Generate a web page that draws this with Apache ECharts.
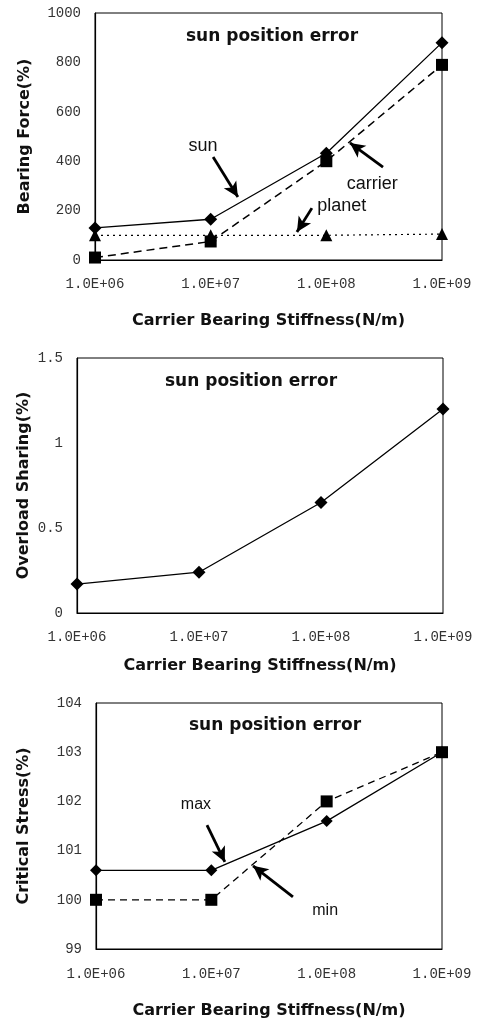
<!DOCTYPE html>
<html lang="en">
<head>
    <meta charset="utf-8">
    <style>
        html, body { margin: 0; padding: 0; background: #fff; }
        #chart { width: 483px; height: 1024px; }
    </style>
</head>
<body>
<div id="chart"></div>
<script src="https://cdn.jsdelivr.net/npm/echarts@6.0.0/dist/echarts.min.js"></script>
<script type="text/javascript">

// stiffness values (N/m), shared by the three panels
var stiffness = [1e6, 1e7, 1e8, 1e9];

// panel 1: bearing force (%)
var sunForce = [130, 165, 432, 880];
var carrierForce = [10, 75, 400, 790];
var planetForce = [100, 100, 100, 105];

// panel 2: overload sharing (%)
var overloadSharing = [0.17, 0.24, 0.65, 1.2];

// panel 3: critical stress (%)
var stressMax = [100.6, 100.6, 101.6, 103.0];
var stressMin = [100.0, 100.0, 102.0, 103.0];

// annotations: text position and arrow [[from], [to]] in data units
var notes1 = [
    { text: 'sun', at: [8.6e6, 462], arrow: [[1.05e7, 417], [1.72e7, 255]] },
    { text: 'carrier', at: [2.5e8, 308], arrow: [[3.09e8, 376], [1.6e8, 474]] },
    { text: 'planet', at: [1.36e8, 219], arrow: [[7.5e7, 210], [5.57e7, 113]] }
];
var notes3 = [
    { text: 'max', at: [7.36e6, 101.93], arrow: [[9.17e6, 101.52], [1.31e7, 100.77]] },
    { text: 'min', at: [9.7e7, 99.79], arrow: [[5.1e7, 100.06], [2.3e7, 100.69]] }
];

var FONT = '"Liberation Sans", Arial, sans-serif';
var TITLE_FONT = '"DejaVu Sans", sans-serif';
var TICK_FONT = '"Liberation Mono", "DejaVu Sans Mono", monospace';

function pairs(ys) {
    return stiffness.map(function (x, i) { return [x, ys[i]]; });
}

function expLabel(v) {
    var e = Math.round(Math.log10(v));
    return '1.0E+' + (e < 10 ? '0' : '') + e;
}

function notePoints(notes, size) {
    return notes.map(function (n) {
        return {
            coord: n.at,
            symbolSize: 0,
            label: { show: true, formatter: n.text, fontSize: size, color: '#111', fontFamily: FONT }
        };
    });
}

function noteArrows(notes) {
    return notes.map(function (n) {
        return [{ coord: n.arrow[0] }, { coord: n.arrow[1] }];
    });
}

function xAxisOf(idx, gap, margin) {
    return {
        gridIndex: idx,
        type: 'log',
        logBase: 10,
        min: 1e6,
        max: 1e9,
        name: 'Carrier Bearing Stiffness(N/m)',
        nameLocation: 'middle',
        nameGap: gap,
        nameMoveOverlap: false,
        nameTextStyle: { fontSize: 16, fontWeight: 'bold', color: '#111', fontFamily: TITLE_FONT },
        axisLine: { lineStyle: { color: '#000', width: 1.2 } },
        axisTick: { show: false },
        splitLine: { show: false },
        minorTick: { show: false },
        axisLabel: { formatter: expLabel, fontSize: 14, color: '#333', margin: margin, fontFamily: TICK_FONT }
    };
}

function yAxisOf(idx, name, min, max, interval, gap) {
    return {
        gridIndex: idx,
        type: 'value',
        min: min,
        max: max,
        interval: interval,
        name: name,
        nameLocation: 'middle',
        nameGap: gap,
        nameMoveOverlap: false,
        nameTextStyle: { fontSize: 16, fontWeight: 'bold', color: '#111', fontFamily: TITLE_FONT },
        axisLine: { show: true, lineStyle: { color: '#000', width: 1.2 } },
        axisTick: { show: false },
        splitLine: { show: false },
        axisLabel: {
            formatter: function (v) { return String(v); },
            fontSize: 14, color: '#333', margin: 14, fontFamily: TICK_FONT
        }
    };
}

function panelTitle(x, y) {
    return {
        text: 'sun position error', left: x, top: y, textAlign: 'center', padding: 0,
        textStyle: { fontSize: 17, fontWeight: 'bold', color: '#111', fontFamily: TITLE_FONT }
    };
}

var arrowLine = {
    silent: true,
    symbol: ['none', 'arrow'],
    symbolSize: [11, 15],
    label: { show: false },
    lineStyle: { color: '#000', width: 2.8, type: 'solid' }
};

var option = {
    animation: false,
    backgroundColor: '#fff',
    title: [panelTitle(272, 28), panelTitle(251, 373), panelTitle(275, 717)],
    grid: [
        { left: 95, right: 41, top: 13, height: 247, show: true, borderColor: '#000', borderWidth: 1 },
        { left: 77, right: 40, top: 358, height: 255, show: true, borderColor: '#000', borderWidth: 1 },
        { left: 96, right: 41, top: 703, height: 246, show: true, borderColor: '#000', borderWidth: 1 }
    ],
    xAxis: [xAxisOf(0, 53, 17), xAxisOf(1, 45, 17), xAxisOf(2, 54, 18)],
    yAxis: [
        yAxisOf(0, 'Bearing Force(%)', 0, 1000, 200, 62),
        yAxisOf(1, 'Overload Sharing(%)', 0, 1.5, 0.5, 45),
        yAxisOf(2, 'Critical Stress(%)', 99, 104, 1, 64)
    ],
    series: [
        {
            name: 'sun', type: 'line', xAxisIndex: 0, yAxisIndex: 0,
            data: pairs(sunForce),
            symbol: 'diamond', symbolSize: 13,
            itemStyle: { color: '#000' },
            lineStyle: { color: '#000', width: 1.3 },
            markLine: Object.assign({ data: noteArrows(notes1) }, arrowLine),
            markPoint: { silent: true, data: notePoints(notes1, 18) }
        },
        {
            name: 'carrier', type: 'line', xAxisIndex: 0, yAxisIndex: 0,
            data: pairs(carrierForce),
            symbol: 'rect', symbolSize: 12,
            itemStyle: { color: '#000' },
            lineStyle: { color: '#000', width: 1.5, type: [8, 5] }
        },
        {
            name: 'planet', type: 'line', xAxisIndex: 0, yAxisIndex: 0,
            data: pairs(planetForce),
            symbol: 'triangle', symbolSize: 12,
            itemStyle: { color: '#000' },
            lineStyle: { color: '#000', width: 1.2, type: [2, 4] }
        },
        {
            name: 'overload', type: 'line', xAxisIndex: 1, yAxisIndex: 1,
            data: pairs(overloadSharing),
            symbol: 'diamond', symbolSize: 13,
            itemStyle: { color: '#000' },
            lineStyle: { color: '#000', width: 1.3 }
        },
        {
            name: 'max', type: 'line', xAxisIndex: 2, yAxisIndex: 2,
            data: pairs(stressMax),
            symbol: 'diamond', symbolSize: 12,
            itemStyle: { color: '#000' },
            lineStyle: { color: '#000', width: 1.3 },
            markLine: Object.assign({ data: noteArrows(notes3) }, arrowLine),
            markPoint: { silent: true, data: notePoints(notes3, 16) }
        },
        {
            name: 'min', type: 'line', xAxisIndex: 2, yAxisIndex: 2,
            data: pairs(stressMin),
            symbol: 'rect', symbolSize: 12,
            itemStyle: { color: '#000' },
            lineStyle: { color: '#000', width: 1.3, type: [7, 5] }
        }
    ]
};

var chart = echarts.init(document.getElementById('chart'));
chart.setOption(option);

</script>
</body>
</html>
